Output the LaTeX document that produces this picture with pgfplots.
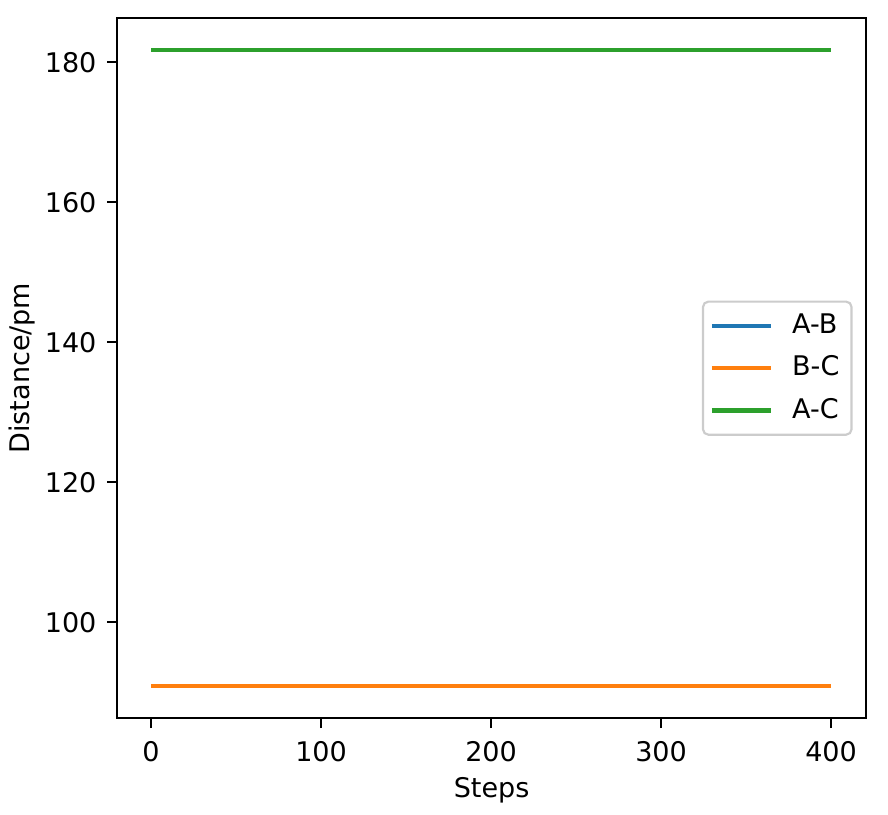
\documentclass[border=0pt]{standalone}
\usepackage{fontspec}
\setmainfont{DejaVu Sans}
\usepackage{pgfplots}
\pgfplotsset{compat=1.18}
\definecolor{tabblue}{HTML}{1F77B4}
\definecolor{taborange}{HTML}{FF7F0E}
\definecolor{tabgreen}{HTML}{2CA02C}
\begin{document}
\begin{tikzpicture}[x=1pt,y=1pt]
\begin{axis}[
    width=277.1pt, height=259pt,
    scale only axis,
    xmin=-20, xmax=420.6,
    ymin=86.3, ymax=186.3,
    xtick={0,100,200,300,400},
    ytick={100,120,140,160,180},
    tick align=outside,
    major tick length=3.7pt,
    tick style={black, line width=0.8pt},
    axis line style={line width=0.8pt},
    xtick pos=bottom, ytick pos=left,
    xticklabel shift=1.4pt,
    yticklabel shift=0.4pt,
    /pgf/number format/assume math mode=true,
    ticklabel style={font=\fontsize{10}{12}\selectfont},
    label style={font=\fontsize{10}{12}\selectfont},
    xlabel={Steps},
    ylabel={Distance/pm},
    xlabel style={at={(axis description cs:0.5,0)}, anchor=north, yshift=-18.4pt},
    ylabel style={at={(axis description cs:0,0.5)}, anchor=south, inner sep=0pt, yshift=30.2pt},
    legend style={at={(axis description cs:0.982,0.5)}, anchor=east,
        draw=black!20, rounded corners=2pt, line width=0.8pt,
        font=\fontsize{10}{12}\selectfont, row sep=2.8pt, column sep=5pt, inner sep=2.5pt},
    legend cell align=left,
    legend image code/.code={\draw[#1] (0pt,0pt) -- (22pt,0pt);},
]
\addplot[tabblue, line width=1.5pt] coordinates {
    (0,90.9) (100,90.9) (200,90.9) (300,90.9) (400,90.9)
};
\addplot[taborange, line width=1.5pt] coordinates {
    (0,90.9) (100,90.9) (200,90.9) (300,90.9) (400,90.9)
};
\addplot[tabgreen, line width=1.5pt] coordinates {
    (0,181.7) (100,181.7) (200,181.7) (300,181.7) (400,181.7)
};
\legend{A-B, B-C, A-C}
\end{axis}
\path ([shift={(-43.3pt,-35.5pt)}]current axis.south west)
    rectangle ([shift={(8.1pt,6.7pt)}]current axis.north east);
\end{tikzpicture}
\end{document}
